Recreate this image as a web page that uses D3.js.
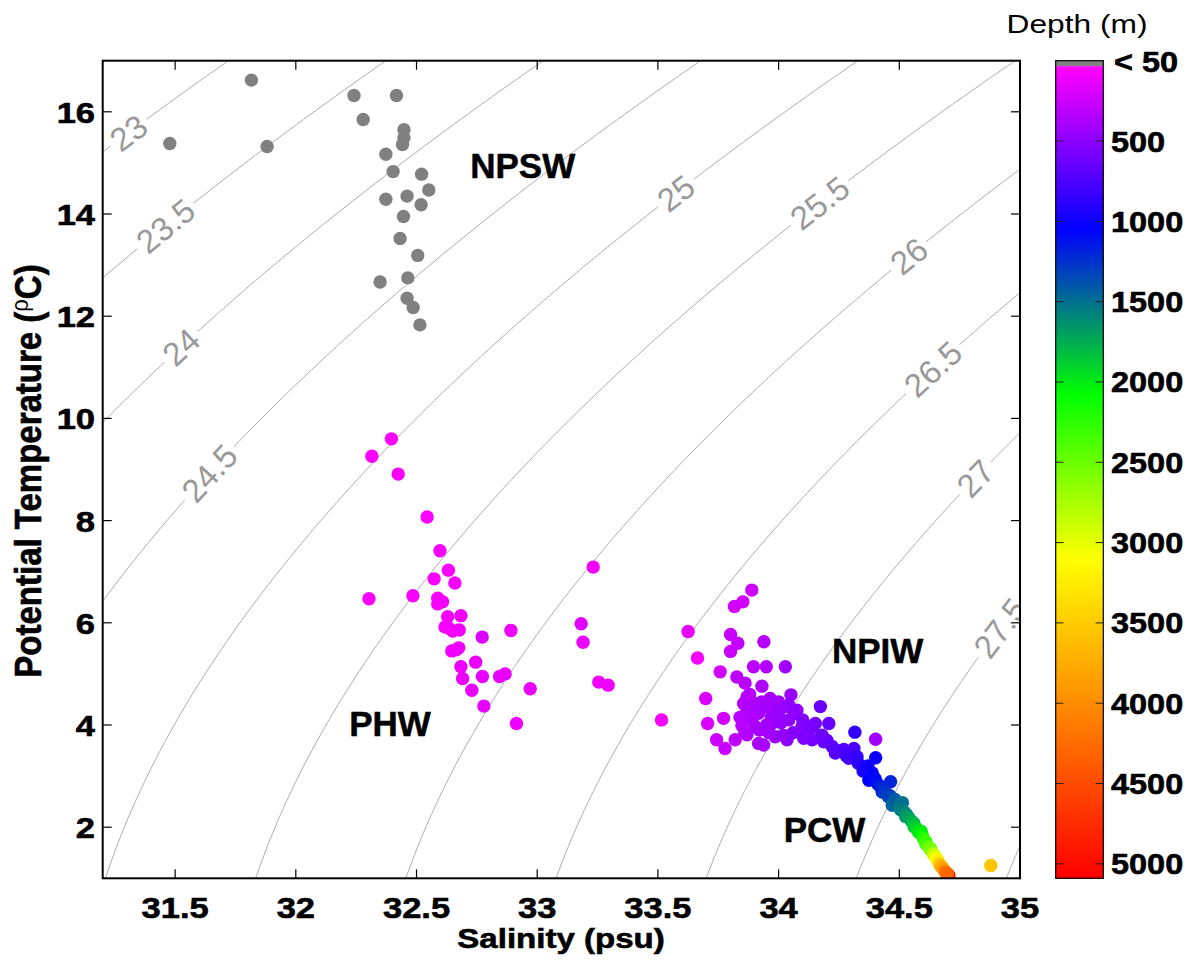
<!DOCTYPE html>
<html>
<head>
<meta charset="utf-8">
<script src="https://cdn.jsdelivr.net/npm/d3@7"></script>
<style>
body { margin: 0; background: #fff; }
text { font-family: "Liberation Sans", Arial, Helvetica, sans-serif; }
</style>
</head>
<body>
<svg width="1194" height="964"></svg>
<script>
// ---- data ----
// salinity (psu), potential temperature (C), depth (m)
var sal = [
  // surface, < 50 m (grey)
  31.816, 31.478, 31.881, 32.241, 32.417, 32.279, 32.448, 32.448, 32.442, 32.373, 32.403, 32.521,
  32.551, 32.373, 32.461, 32.519, 32.446, 32.432, 32.505, 32.349, 32.464, 32.461, 32.486, 32.514,
  // PHW
  32.396, 32.315, 32.424, 32.544, 32.597, 32.632, 32.573, 32.659, 32.303, 32.485, 32.588, 32.608,
  32.588, 32.629, 32.684, 32.618, 32.650, 32.677, 32.636, 32.772, 32.891, 32.675, 32.646, 32.664,
  32.745, 32.684, 32.773, 32.691, 32.844, 32.867, 32.729, 32.971, 32.779, 32.914, 33.232, 33.182,
  33.190, 33.255, 33.294,
  // NPIW
  33.515, 33.625, 33.664, 33.889, 33.852, 33.817, 33.801, 33.831, 33.801, 33.939, 33.758, 34.028,
  33.949, 33.896, 33.827, 33.861, 33.931, 33.698, 33.869, 34.051, 33.855, 33.903, 33.965, 34.000,
  33.772, 33.706, 33.861, 33.917, 33.979, 34.035, 34.069, 33.848, 33.903, 33.972, 34.042, 34.097,
  33.743, 33.778, 33.820, 33.869, 33.917, 33.938, 33.986, 34.035, 34.104, 34.139, 34.173, 34.152,
  34.208, 33.880, 33.900, 33.930, 33.950, 33.970, 34.000, 34.010, 33.890, 33.920, 33.960, 34.060,
  34.120, 34.100, 34.140, 34.180, 34.200, 33.860, 33.840, 33.950, 34.020,
  // deep, PCW
  34.042, 34.076, 34.187, 34.222, 34.235, 34.240, 34.270, 34.312, 34.280, 34.291, 34.316, 34.325,
  34.330, 34.402, 34.350, 34.360, 34.370, 34.388, 34.402, 34.374, 34.390, 34.400, 34.410, 34.420,
  34.464, 34.429, 34.430, 34.440, 34.454, 34.460, 34.480, 34.471, 34.490, 34.513, 34.500, 34.505,
  34.520, 34.530, 34.526, 34.540, 34.550, 34.560, 34.561, 34.570, 34.580, 34.590, 34.595, 34.600,
  34.609, 34.610, 34.620, 34.630, 34.630, 34.640, 34.645, 34.651, 34.655, 34.660, 34.665, 34.670,
  34.879, 34.705, 34.675, 34.680, 34.686, 34.690, 34.695, 34.700
];
var theta = [
  16.62, 15.38, 15.32, 16.32, 16.32, 15.85, 15.65, 15.49, 15.36, 15.17, 14.83, 14.78,
  14.47, 14.29, 14.35, 14.18, 13.95, 13.52, 13.19, 12.67, 12.75, 12.35, 12.17, 11.83,
  9.60, 9.26, 8.91, 8.07, 7.41, 7.03, 6.86, 6.78, 6.47, 6.53, 6.48, 6.41,
  6.37, 6.12, 6.14, 5.92, 5.84, 5.86, 5.89, 5.72, 5.85, 5.51, 5.45, 5.47,
  5.23, 5.14, 4.95, 4.91, 4.95, 5.00, 4.68, 4.71, 4.37, 4.03, 7.09, 5.98,
  5.62, 4.84, 4.78,
  4.10, 5.83, 5.31, 6.64, 6.41, 6.32, 5.77, 5.60, 5.44, 5.63, 5.04, 5.14,
  5.14, 5.14, 4.94, 4.82, 4.76, 4.52, 4.55, 4.59, 4.42, 4.42, 4.52, 4.45,
  4.13, 4.03, 4.20, 4.23, 4.29, 4.36, 4.23, 3.99, 3.97, 4.03, 4.10, 3.97,
  3.71, 3.54, 3.71, 3.81, 3.64, 3.61, 3.77, 3.71, 3.74, 3.71, 4.36, 4.03,
  4.03, 4.60, 4.30, 4.45, 4.35, 4.15, 4.25, 4.05, 4.10, 3.90, 3.85, 3.85,
  3.85, 4.10, 3.95, 3.80, 3.70, 3.85, 4.15, 4.00, 3.80,
  4.39, 4.29, 3.67, 3.58, 3.45, 3.50, 3.52, 3.54, 3.40, 3.35, 3.86, 3.38,
  3.25, 3.72, 3.10, 3.15, 3.20, 3.06, 3.36, 2.92, 3.00, 2.95, 2.85, 2.80,
  2.89, 2.69, 2.75, 2.70, 2.60, 2.62, 2.55, 2.43, 2.50, 2.48, 2.40, 2.34,
  2.30, 2.25, 2.21, 2.18, 2.12, 2.08, 2.01, 1.98, 1.90, 1.92, 1.85, 1.78,
  1.68, 1.72, 1.62, 1.55, 1.58, 1.48, 1.45, 1.42, 1.38, 1.35, 1.29, 1.25,
  1.25, 1.06, 1.22, 1.20, 1.16, 1.13, 1.10, 1.09
];
var depth = [
  5, 8, 10, 12, 15, 18, 20, 22, 25, 28, 30, 32,
  35, 20, 25, 30, 35, 38, 40, 42, 44, 45, 46, 48,
  55, 55, 60, 65, 70, 75, 75, 80, 60, 70, 80, 85,
  85, 90, 95, 95, 100, 100, 95, 190, 110, 110, 110, 115,
  130, 120, 150, 130, 140, 140, 140, 130, 150, 120, 100, 170,
  120, 110, 110,
  80, 150, 80, 250, 230, 230, 260, 280, 260, 350, 220, 420,
  350, 320, 300, 330, 370, 200, 350, 450, 340, 380, 400, 420,
  230, 200, 360, 400, 430, 460, 480, 330, 380, 440, 490, 520,
  250, 270, 300, 350, 380, 400, 450, 500, 550, 580, 630, 600,
  650, 330, 370, 390, 410, 430, 450, 460, 360, 390, 420, 520,
  560, 540, 580, 620, 650, 340, 330, 410, 480,
  470, 490, 640, 680, 720, 700, 720, 760, 780, 800, 850, 840,
  880, 420, 950, 950, 980, 1000, 1000, 1050, 1030, 1080, 1100, 1150,
  1200, 1250, 1200, 1250, 1350, 1300, 1400, 1450, 1420, 1500, 1500, 1550,
  1580, 1600, 1650, 1700, 1750, 1800, 1850, 1900, 2000, 2000, 2050, 2200,
  2350, 2300, 2450, 2600, 2550, 2800, 2900, 2950, 3100, 3200, 3400, 3600,
  3550, 5090, 3700, 3800, 3900, 4100, 4200, 4300
];

var xTicks = [31.5, 32, 32.5, 33, 33.5, 34, 34.5, 35];
var xTickLabels = ["31.5", "32", "32.5", "33", "33.5", "34", "34.5", "35"];
var yTicks = [2, 4, 6, 8, 10, 12, 14, 16];
var depthTicks = [500, 1000, 1500, 2000, 2500, 3000, 3500, 4000, 4500, 5000];

var sigmaLevels = [23, 23.5, 24, 24.5, 25, 25.5, 26, 26.5, 27, 27.5, 28];
var labelLevels = [23, 23.5, 24, 24.5, 25, 25.5, 26, 26.5, 27, 27.5];
var labelTemps = [15.59, 13.77, 11.40, 8.93, 14.41, 14.22, 13.18, 10.97, 8.83, 5.90];

var massNames = ["NPSW", "NPIW", "PHW", "PCW"];
var massSal = [32.94, 34.41, 32.39, 34.19];
var massTemp = [14.70, 5.21, 3.79, 1.71];

// ---- layout ----
var svg = d3.select("svg");
var pL = 102.7, pR = 1020, pT = 60.7, pB = 878.3;
var x = d3.scaleLinear().domain([31.2, 35]).range([pL, pR]);
var y = d3.scaleLinear().domain([1, 17]).range([pB, pT]);

var color = d3.scaleLinear()
  .domain([50, 1050, 2080, 3100, 5090])
  .range(["#ff00ff", "#0000ff", "#00ff00", "#ffff00", "#ff0000"])
  .clamp(true);
function depthColor(d) { return d < 50 ? "#808080" : color(d); }

// density of sea water at the surface (UNESCO 1981), minus 1000
function sigma0(S, T) {
  var rw = 999.842594 + 6.793952e-2 * T - 9.095290e-3 * T * T + 1.001685e-4 * T * T * T
    - 1.120083e-6 * T * T * T * T + 6.536332e-9 * T * T * T * T * T;
  var A = 8.24493e-1 - 4.0899e-3 * T + 7.6438e-5 * T * T - 8.2467e-7 * T * T * T + 5.3875e-9 * T * T * T * T;
  var B = -5.72466e-3 + 1.0227e-4 * T - 1.6546e-6 * T * T;
  var C = 4.8314e-4;
  return rw + A * S + B * Math.pow(S, 1.5) + C * S * S - 1000;
}
function salFor(level, T) {
  var lo = 20, hi = 45;
  for (var i = 0; i < 60; i++) {
    var mid = (lo + hi) / 2;
    if (sigma0(mid, T) < level) lo = mid; else hi = mid;
  }
  return (lo + hi) / 2;
}

var defs = svg.append("defs");
defs.append("clipPath").attr("id", "plotclip")
  .append("rect").attr("x", pL).attr("y", pT).attr("width", pR - pL).attr("height", pB - pT);
var mask = defs.append("mask").attr("id", "labelmask").attr("maskUnits", "userSpaceOnUse")
  .attr("x", 0).attr("y", 0).attr("width", 1194).attr("height", 964);
mask.append("rect").attr("width", 1194).attr("height", 964).attr("fill", "#fff");

var gContour = svg.append("g").attr("clip-path", "url(#plotclip)");
var gLines = gContour.append("g").attr("mask", "url(#labelmask)");
var gPoints = svg.append("g").attr("clip-path", "url(#plotclip)");
var gLabels = svg.append("g").attr("clip-path", "url(#plotclip)");

var temps = d3.range(0, 18.01, 0.05);
var line = d3.line().x(function(d) { return x(d[0]); }).y(function(d) { return y(d[1]); });

gLines.selectAll("path")
  .data(sigmaLevels)
  .enter().append("path")
  .attr("d", function(lev) { return line(temps.map(function(T) { return [salFor(lev, T), T]; })); })
  .attr("fill", "none")
  .attr("stroke", "#aaaaaa")
  .attr("stroke-width", 1);

labelLevels.forEach(function(lev, i) {
  var T = labelTemps[i];
  var px = x(salFor(lev, T)), py = y(T);
  var dx = x(salFor(lev, T + 0.15)) - x(salFor(lev, T - 0.15));
  var dy = y(T + 0.15) - y(T - 0.15);
  var ang = Math.atan2(dy, dx) * 180 / Math.PI;
  var t = gLabels.append("text")
    .attr("transform", "translate(" + px + "," + py + ") rotate(" + ang + ")")
    .attr("text-anchor", "middle")
    .attr("dy", "0.36em")
    .style("font-size", "33px")
    .attr("fill", "#999999")
    .text(String(lev));
  var w = t.node().getComputedTextLength() + 8;
  mask.append("rect")
    .attr("x", -w / 2).attr("y", -15).attr("width", w).attr("height", 30)
    .attr("transform", "translate(" + px + "," + py + ") rotate(" + ang + ")")
    .attr("fill", "#000");
});

// points
gPoints.selectAll("circle")
  .data(d3.range(sal.length))
  .enter().append("circle")
  .attr("cx", function(i) { return x(sal[i]); })
  .attr("cy", function(i) { return y(theta[i]); })
  .attr("r", 6.7)
  .attr("fill", function(i) { return depthColor(depth[i]); });

// water mass labels
massNames.forEach(function(n, i) {
  svg.append("text")
    .attr("x", x(massSal[i])).attr("y", y(massTemp[i]))
    .attr("text-anchor", "middle")
    .style("font-size", "35px").style("font-weight", "bold")
    .attr("stroke", "#000").attr("stroke-width", 0.5)
    .text(n);
});

// ---- axes ----
function stext(x0, y0, str, size, weight, sx, anchor) {
  var t = svg.append("text")
    .attr("transform", "translate(" + x0 + "," + y0 + ") scale(" + sx + ",1)")
    .attr("text-anchor", anchor)
    .style("font-size", size + "px").style("font-weight", weight)
    .text(str);
  if (weight === "bold") t.attr("stroke", "#000").attr("stroke-width", 0.6);
  return t;
}

var tickLen = 9;
var gAxes = svg.append("g").attr("stroke", "#000").attr("stroke-width", 1.2);
xTicks.forEach(function(v) {
  gAxes.append("line").attr("x1", x(v)).attr("x2", x(v)).attr("y1", pB).attr("y2", pB - tickLen);
  gAxes.append("line").attr("x1", x(v)).attr("x2", x(v)).attr("y1", pT).attr("y2", pT + tickLen);
});
yTicks.forEach(function(v) {
  gAxes.append("line").attr("y1", y(v)).attr("y2", y(v)).attr("x1", pL).attr("x2", pL + tickLen);
  gAxes.append("line").attr("y1", y(v)).attr("y2", y(v)).attr("x1", pR).attr("x2", pR - tickLen);
});
svg.append("rect").attr("x", pL).attr("y", pT).attr("width", pR - pL).attr("height", pB - pT)
  .attr("fill", "none").attr("stroke", "#000").attr("stroke-width", 2);

xTicks.forEach(function(v, i) { stext(x(v), 918, xTickLabels[i], 30, "bold", 1.15, "middle"); });
yTicks.forEach(function(v) { stext(95, y(v) + 11, String(v), 30, "bold", 1.15, "end"); });

stext(561, 948, "Salinity (psu)", 28, "bold", 1.18, "middle");

var yt = svg.append("text")
  .attr("transform", "translate(41,471) scale(1.1,1) rotate(-90)")
  .attr("text-anchor", "middle")
  .attr("stroke", "#000").attr("stroke-width", 0.6)
  .style("font-size", "33px").style("font-weight", "bold");
yt.append("tspan").text("Potential Temperature (");
yt.append("tspan").attr("dy", -12).attr("stroke-width", 0).style("font-size", "22px").style("font-weight", "normal").text("\u03c1");
yt.append("tspan").attr("dy", 12).text("C)");

// ---- colour bar ----
var cbL = 1055.7, cbR = 1103.3, cbGrey = 34;
var cb = d3.scaleLinear().domain([0, 5090]).range([pT, pB]);
var grad = defs.append("linearGradient").attr("id", "cbgrad")
  .attr("x1", 0).attr("y1", 0).attr("x2", 0).attr("y2", 1);
d3.range(cbGrey, 5091, 40).forEach(function(d) {
  grad.append("stop").attr("offset", (d - cbGrey) / (5090 - cbGrey)).attr("stop-color", color(d));
});
svg.append("rect").attr("x", cbL).attr("y", cb(0)).attr("width", cbR - cbL).attr("height", cb(cbGrey) - cb(0))
  .attr("fill", "#808080");
svg.append("rect").attr("x", cbL).attr("y", cb(cbGrey)).attr("width", cbR - cbL).attr("height", cb(5090) - cb(cbGrey))
  .attr("fill", "url(#cbgrad)");
var gcb = svg.append("g").attr("stroke", "#222").attr("stroke-width", 1);
depthTicks.forEach(function(d) {
  gcb.append("line").attr("x1", cbL).attr("x2", cbL + 7.7).attr("y1", cb(d)).attr("y2", cb(d));
  gcb.append("line").attr("x1", cbR).attr("x2", cbR - 7.7).attr("y1", cb(d)).attr("y2", cb(d));
  stext(1111, cb(d) + 10.5, String(d), 29, "bold", 1.12, "start");
});
svg.append("rect").attr("x", cbL).attr("y", pT).attr("width", cbR - cbL).attr("height", pB - pT)
  .attr("fill", "none").attr("stroke", "#000").attr("stroke-width", 1.2);
stext(1114, 72, "< 50", 29, "bold", 1.12, "start");
stext(1077, 33, "Depth (m)", 26, "normal", 1.22, "middle");
</script>
</body>
</html>
